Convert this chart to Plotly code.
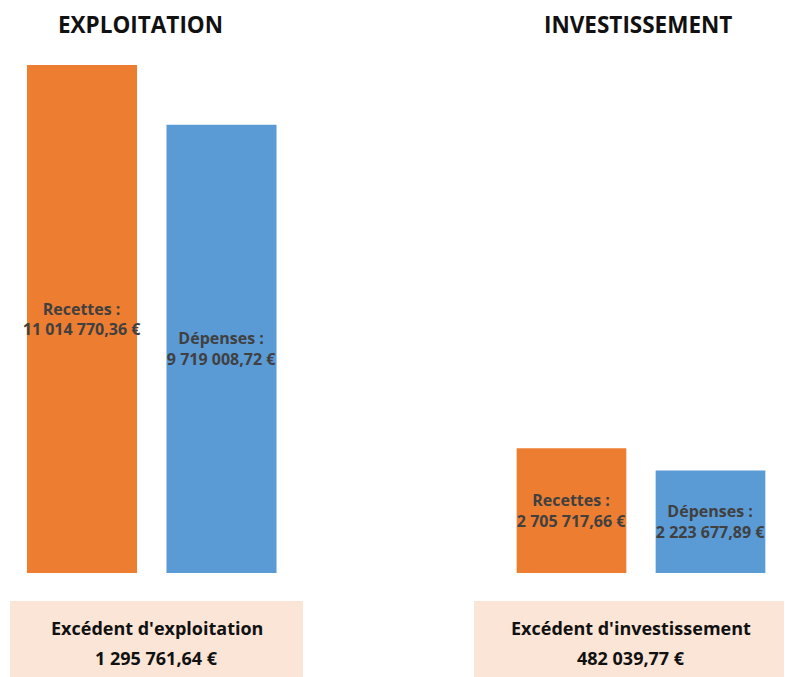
import plotly.graph_objects as go

# The page adds an 8px body margin; figure is sized to fill the rest of the window.
OFF = 8
W, H = 792 - OFF, 677 - OFF

sections = ["EXPLOITATION", "INVESTISSEMENT"]
categories = ["Recettes", "Dépenses"]
expl_values = [11014770.36, 9719008.72]
inv_values = [2705717.66, 2223677.89]
expl_labels = ["Recettes :<br>11 014 770,36 €", "Dépenses :<br>9 719 008,72 €"]
inv_labels = ["Recettes :<br>2 705 717,66 €", "Dépenses :<br>2 223 677,89 €"]
surplus_titles = ["Excédent d'exploitation", "Excédent d'investissement"]
surplus_values = ["1 295 761,64 €", "482 039,77 €"]

colors = ["#ED7D31", "#5B9BD5"]
label_font = dict(family="Open Sans", size=16, color="#404040")


def px(x):
    return (x - OFF) / W


def py(y):
    return 1 - (y - OFF) / H


# pixel geometry (reference screen coords)
base_px = 573
top_px = 65
y_dom0 = py(base_px)
ymax = expl_values[0] * (base_px - OFF) / (base_px - top_px)

fig = go.Figure()
fig.add_trace(go.Bar(
    x=categories, y=expl_values, marker=dict(color=colors, line=dict(width=0)),
    text=[f"<b>{t}</b>" for t in expl_labels], textposition="inside",
    insidetextanchor="middle", textfont=label_font, constraintext="none",
    textangle=0, cliponaxis=False,
    xaxis="x", yaxis="y", showlegend=False, hoverinfo="skip"))
fig.add_trace(go.Bar(
    x=categories, y=inv_values, marker=dict(color=colors, line=dict(width=0)),
    text=[f"<b>{t}</b>" for t in inv_labels], textposition="inside",
    insidetextanchor="middle", textfont=label_font, constraintext="none",
    textangle=0, cliponaxis=False,
    xaxis="x2", yaxis="y2", showlegend=False, hoverinfo="skip"))

ax_common = dict(showgrid=False, zeroline=False, showticklabels=False,
                 showline=False, ticks="", range=[-0.5, 1.5])
ay_common = dict(showgrid=False, zeroline=False, showticklabels=False,
                 showline=False, ticks="", range=[0, ymax], domain=[y_dom0, 1])

fig.update_layout(
    width=W, height=H, margin=dict(l=0, r=0, t=0, b=0),
    paper_bgcolor="white", plot_bgcolor="white",
    bargap=0.211,
    xaxis=dict(domain=[px(12.25), px(291.25)], **ax_common),
    xaxis2=dict(domain=[px(502), px(780)], **ax_common),
    yaxis=dict(anchor="x", **ay_common),
    yaxis2=dict(anchor="x2", **ay_common),
)

# section titles
for txt, cx in zip(sections, [140, 638]):
    fig.add_annotation(text=f"<b>{txt}</b>", x=px(cx), y=1,
                       xref="paper", yref="paper", showarrow=False,
                       font=dict(family="Open Sans", size=22.5, color="#111111"),
                       xanchor="center", yanchor="top", borderpad=0)

# surplus boxes
boxes = [(10, 303), (474, 788)]
for (x0, x1), t, v in zip(boxes, surplus_titles, surplus_values):
    fig.add_shape(type="rect", xref="paper", yref="paper",
                  x0=px(x0), x1=px(x1), y0=0, y1=py(601),
                  fillcolor="#FBE5D6", line=dict(width=0), layer="below")
    for line, yy in [(t, 628), (v, 658)]:
        fig.add_annotation(text=f"<b>{line}</b>",
                           x=px((x0 + x1) / 2), y=py(yy),
                           xref="paper", yref="paper", showarrow=False,
                           font=dict(family="Open Sans", size=18, color="#111111"),
                           xanchor="center", yanchor="middle")

fig.write_html("out.html")
